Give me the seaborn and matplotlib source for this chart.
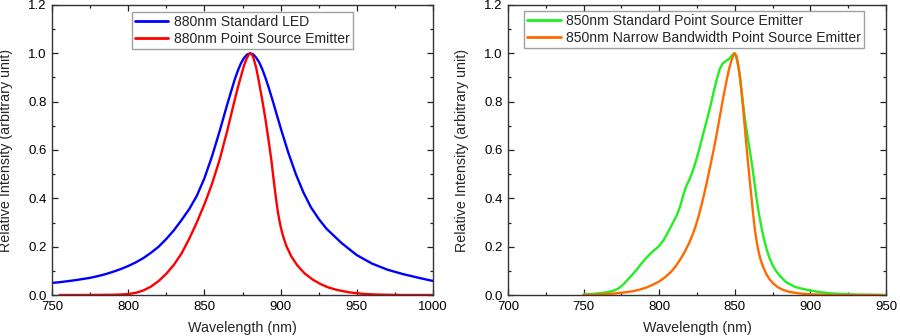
import numpy as np
import pandas as pd
import matplotlib
matplotlib.use("Agg")
import matplotlib.pyplot as plt
from matplotlib.ticker import MultipleLocator, FormatStrFormatter
import seaborn as sns

# ---- Data ----
blue_wl = [750, 755, 760, 765, 770, 775, 780, 785, 790, 795, 800, 805, 810, 815, 820,
           825, 830, 835, 840, 845, 850, 855, 860, 865, 870, 872, 874, 876, 878, 880,
           882, 884, 886, 888, 890, 892, 895, 898, 900, 905, 910, 915, 920, 925, 930,
           940, 950, 960, 970, 980, 990, 1000]
blue_val = [0.050, 0.053, 0.057, 0.061, 0.066, 0.071, 0.078, 0.086, 0.096, 0.107, 0.120,
            0.135, 0.153, 0.175, 0.200, 0.232, 0.268, 0.310, 0.355, 0.410, 0.483, 0.574,
            0.678, 0.789, 0.894, 0.929, 0.959, 0.981, 0.995, 1.000, 0.996, 0.982, 0.962,
            0.934, 0.900, 0.862, 0.800, 0.735, 0.692, 0.590, 0.500, 0.424, 0.362, 0.315,
            0.275, 0.215, 0.165, 0.130, 0.105, 0.087, 0.072, 0.058]

red_wl = [755, 770, 780, 790, 795, 800, 805, 810, 815, 820, 825, 830, 835, 840, 845, 850,
          855, 860, 865, 870, 872, 874, 876, 877.5, 879, 880, 881, 882, 884, 886, 888, 890,
          892, 894, 895, 896, 897, 898, 899, 900, 901, 902, 903, 904, 907, 911, 916, 921,
          926, 931, 937, 945, 955, 965, 980, 1000]
red_val = [0.000, 0.000, 0.0005, 0.001, 0.002, 0.004, 0.009, 0.019, 0.035, 0.058, 0.088,
           0.125, 0.172, 0.232, 0.300, 0.375, 0.460, 0.560, 0.680, 0.810, 0.860, 0.905,
           0.950, 0.975, 0.994, 1.000, 0.996, 0.985, 0.940, 0.875, 0.805, 0.730, 0.645,
           0.555, 0.500, 0.448, 0.398, 0.353, 0.315, 0.284, 0.258, 0.236, 0.217, 0.200,
           0.160, 0.122, 0.088, 0.064, 0.046, 0.032, 0.021, 0.011, 0.004, 0.0015, 0.000,
           0.000]

green_wl = [750, 755, 760, 765, 770, 773, 776, 779, 782, 785, 788, 791, 794, 797, 800, 803,
            806, 809, 812, 814, 816, 818, 820, 822, 824, 826, 828, 830, 832, 834, 836, 838,
            840, 842, 844, 846, 848, 849.5, 851, 852.5, 854, 855.5, 857, 858.5, 860, 861.5,
            863, 864.5, 866, 867.5, 869, 871, 873, 875, 877, 880, 884, 890, 898, 906, 915,
            930, 950]
green_val = [0.003, 0.004, 0.007, 0.011, 0.018, 0.027, 0.042, 0.062, 0.083, 0.104, 0.128,
             0.150, 0.170, 0.187, 0.203, 0.228, 0.262, 0.298, 0.335, 0.370, 0.415, 0.452,
             0.478, 0.510, 0.548, 0.592, 0.640, 0.688, 0.735, 0.785, 0.840, 0.890, 0.935,
             0.958, 0.968, 0.976, 0.990, 1.000, 0.985, 0.940, 0.870, 0.790, 0.715, 0.655,
             0.595, 0.535, 0.465, 0.395, 0.335, 0.285, 0.240, 0.190, 0.152, 0.124, 0.102,
             0.078, 0.053, 0.033, 0.021, 0.012, 0.006, 0.002, 0.000]

orange_wl = [750, 760, 770, 776, 782, 787, 792, 796, 800, 804, 808, 811, 814, 817, 820,
             822, 824, 826, 828, 830, 832, 834, 836, 838, 840, 842, 844, 846, 848, 849.3,
             850, 851, 852, 853.2, 854.3, 855.4, 856.4, 857.3, 858.4, 859.8, 861.2, 862.3,
             863.4, 864.5, 865.7, 867, 868.8, 871, 873, 875.4, 878.5, 882, 886, 892, 900,
             910, 920, 948]
orange_val = [0.000, 0.002, 0.006, 0.010, 0.015, 0.022, 0.032, 0.043, 0.056, 0.074, 0.097,
              0.120, 0.148, 0.180, 0.218, 0.248, 0.283, 0.325, 0.372, 0.425, 0.482, 0.540,
              0.600, 0.665, 0.735, 0.805, 0.870, 0.930, 0.975, 0.996, 1.000, 0.990, 0.960,
              0.915, 0.850, 0.779, 0.710, 0.645, 0.572, 0.480, 0.393, 0.325, 0.265, 0.220,
              0.180, 0.148, 0.115, 0.085, 0.065, 0.048, 0.032, 0.021, 0.013, 0.007, 0.003,
              0.001, 0.000, 0.000]

left_labels = ["880nm Standard LED", "880nm Point Source Emitter"]
right_labels = ["850nm Standard Point Source Emitter",
                "850nm Narrow Bandwidth Point Source Emitter"]

df_left = pd.concat([
    pd.DataFrame({"wl": blue_wl, "val": blue_val, "series": left_labels[0]}),
    pd.DataFrame({"wl": red_wl, "val": red_val, "series": left_labels[1]}),
])
df_right = pd.concat([
    pd.DataFrame({"wl": green_wl, "val": green_val, "series": right_labels[0]}),
    pd.DataFrame({"wl": orange_wl, "val": orange_val, "series": right_labels[1]}),
])

sns.set_style("ticks")
plt.rcParams["font.family"] = ["Liberation Sans", "DejaVu Sans"]

fig = plt.figure(figsize=(9, 3.36), dpi=100)
ax1 = fig.add_axes([52 / 900, 1 - 295 / 336, (433 - 52) / 900, 290 / 336])
ax2 = fig.add_axes([508 / 900, 1 - 295 / 336, (886 - 508) / 900, 290 / 336])

line_kw = dict(linewidth=1.7, estimator=None, sort=False)
sns.lineplot(data=df_left, x="wl", y="val", hue="series",
             palette={left_labels[0]: "#0000ff", left_labels[1]: "#ff0000"},
             ax=ax1, **line_kw)
sns.lineplot(data=df_right, x="wl", y="val", hue="series",
             palette={right_labels[0]: "#22ee22", right_labels[1]: "#ff6a00"},
             ax=ax2, **line_kw)

for line in ax1.lines + ax2.lines:
    line.set_solid_joinstyle("round")
    line.set_solid_capstyle("round")

for ax, xlim, leg_anchor in [(ax1, (750, 1000), (0.21, 0.975)),
                             (ax2, (700, 950), (0.043, 0.978))]:
    ax.set_xlim(*xlim)
    ax.set_ylim(0, 1.2)
    ax.xaxis.set_major_locator(MultipleLocator(50))
    ax.xaxis.set_minor_locator(MultipleLocator(25))
    ax.yaxis.set_major_locator(MultipleLocator(0.2))
    ax.yaxis.set_minor_locator(MultipleLocator(0.1))
    ax.yaxis.set_major_formatter(FormatStrFormatter("%.1f"))
    ax.tick_params(which="both", direction="in", top=True, right=True,
                   labelsize=9.5, colors="#222222", labelcolor="black", width=0.9)
    ax.tick_params(which="major", length=4.5)
    ax.tick_params(which="minor", length=2.5)
    ax.tick_params(axis="x", which="major", pad=4)
    ax.tick_params(axis="y", which="major", pad=4)
    for s in ax.spines.values():
        s.set_linewidth(1.0)
        s.set_color("#333333")
    ax.set_xlabel("Wavelength (nm)", fontsize=10.3, labelpad=6)
    ax.set_ylabel("Relative Intensity (arbitrary unit)", fontsize=10.3, labelpad=11)
    leg = ax.legend(loc="upper left", bbox_to_anchor=leg_anchor, fontsize=10.1,
                    frameon=True, fancybox=False, edgecolor="#888888",
                    handlelength=2.4, handletextpad=0.4, borderpad=0.2,
                    labelspacing=0.22, borderaxespad=0)
    leg.get_frame().set_linewidth(1.0)
    for line in leg.get_lines():
        line.set_linewidth(2.0)

fig.savefig("out.png", dpi=100)
